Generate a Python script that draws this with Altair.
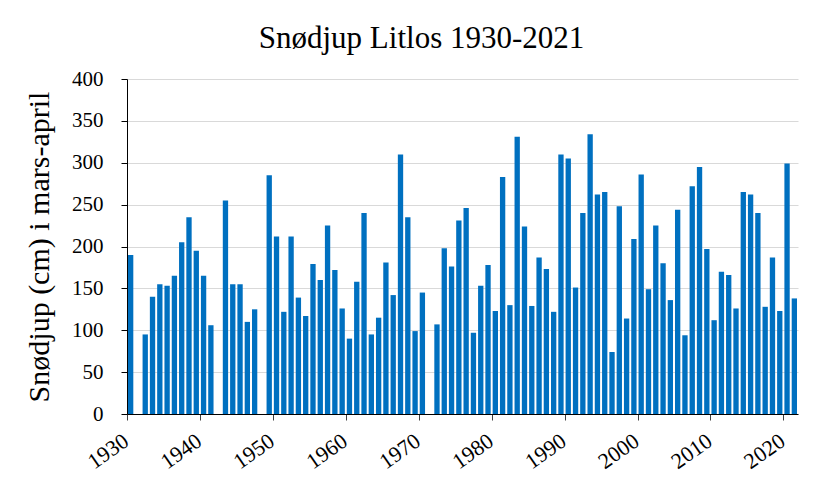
import altair as alt
import pandas as pd

years = [1930, 1932, 1933, 1934, 1935, 1936, 1937, 1938, 1939, 1940, 1941,
         1943, 1944, 1945, 1946, 1947, 1949, 1950, 1951, 1952, 1953, 1954,
         1955, 1956, 1957, 1958, 1959, 1960, 1961, 1962, 1963, 1964, 1965,
         1966, 1967, 1968, 1969, 1970, 1972, 1973, 1974, 1975, 1976, 1977,
         1978, 1979, 1980, 1981, 1982, 1983, 1984, 1985, 1986, 1987, 1988,
         1989, 1990, 1991, 1992, 1993, 1994, 1995, 1996, 1997, 1998, 1999,
         2000, 2001, 2002, 2003, 2004, 2005, 2006, 2007, 2008, 2009, 2010,
         2011, 2012, 2013, 2014, 2015, 2016, 2017, 2018, 2019, 2020, 2021]
depth = [190, 95, 140, 155, 153, 165, 205, 235, 195, 165, 106,
         255, 155, 155, 110, 125, 285, 212, 122, 212, 139, 117,
         179, 160, 225, 172, 126, 90, 158, 240, 95, 115, 181,
         142, 310, 235, 99, 145, 107, 198, 176, 231, 246, 97,
         153, 178, 123, 283, 130, 331, 224, 129, 187, 173, 122,
         310, 305, 151, 240, 334, 262, 265, 74, 248, 114, 209,
         286, 149, 225, 180, 136, 244, 94, 272, 295, 197, 112,
         170, 166, 126, 265, 262, 240, 128, 187, 123, 299, 138]
decade_ticks = [1930, 1940, 1950, 1960, 1970, 1980, 1990, 2000, 2010, 2020]
y_ticks = [0, 50, 100, 150, 200, 250, 300, 350, 400]

df = pd.DataFrame({"year": years, "depth": depth})

chart = alt.Chart(df).transform_calculate(
    x0="datum.year + 0.135", x1="datum.year + 0.865"
).mark_bar(color="#0070C0").encode(
    x=alt.X("x0:Q",
            scale=alt.Scale(domain=[1930, 2022], nice=False, zero=False),
            axis=alt.Axis(values=decade_ticks, format="d", title=None,
                          labelAngle=-35, labelAlign="right", labelBaseline="top",
                          labelPadding=10, labelOffset=-7, tickSize=6, grid=False,
                          labelFontSize=22,
                          domainColor="#000000", tickColor="#404040")),
    x2="x1:Q",
    y=alt.Y("depth:Q",
            scale=alt.Scale(domain=[0, 400], nice=False),
            axis=alt.Axis(values=y_ticks, title="Snødjup (cm) i mars-april",
                          titleFontSize=30, titlePadding=17, labelPadding=18,
                          tickSize=6, grid=True, gridColor="#d9d9d9",
                          domainColor="#000000", tickColor="#000000")),
    y2=alt.datum(0),
).properties(
    width=671,
    height=335,
    autosize=alt.AutoSizeParams(type="none"),
    padding={"left": 119, "top": 71, "right": 16, "bottom": 63},
    title=alt.TitleParams("Snødjup Litlos 1930-2021", fontSize=31,
                          font="Liberation Serif", fontWeight="normal",
                          anchor="middle", dx=-41, offset=13, color="#000000"),
).configure_axis(
    labelFont="Liberation Serif", titleFont="Liberation Serif",
    labelFontSize=21, labelColor="#000000", titleColor="#000000",
    titleFontWeight="normal",
).configure_view(stroke=None)

chart.save("out.html", embed_options={"renderer": "svg", "actions": False})
